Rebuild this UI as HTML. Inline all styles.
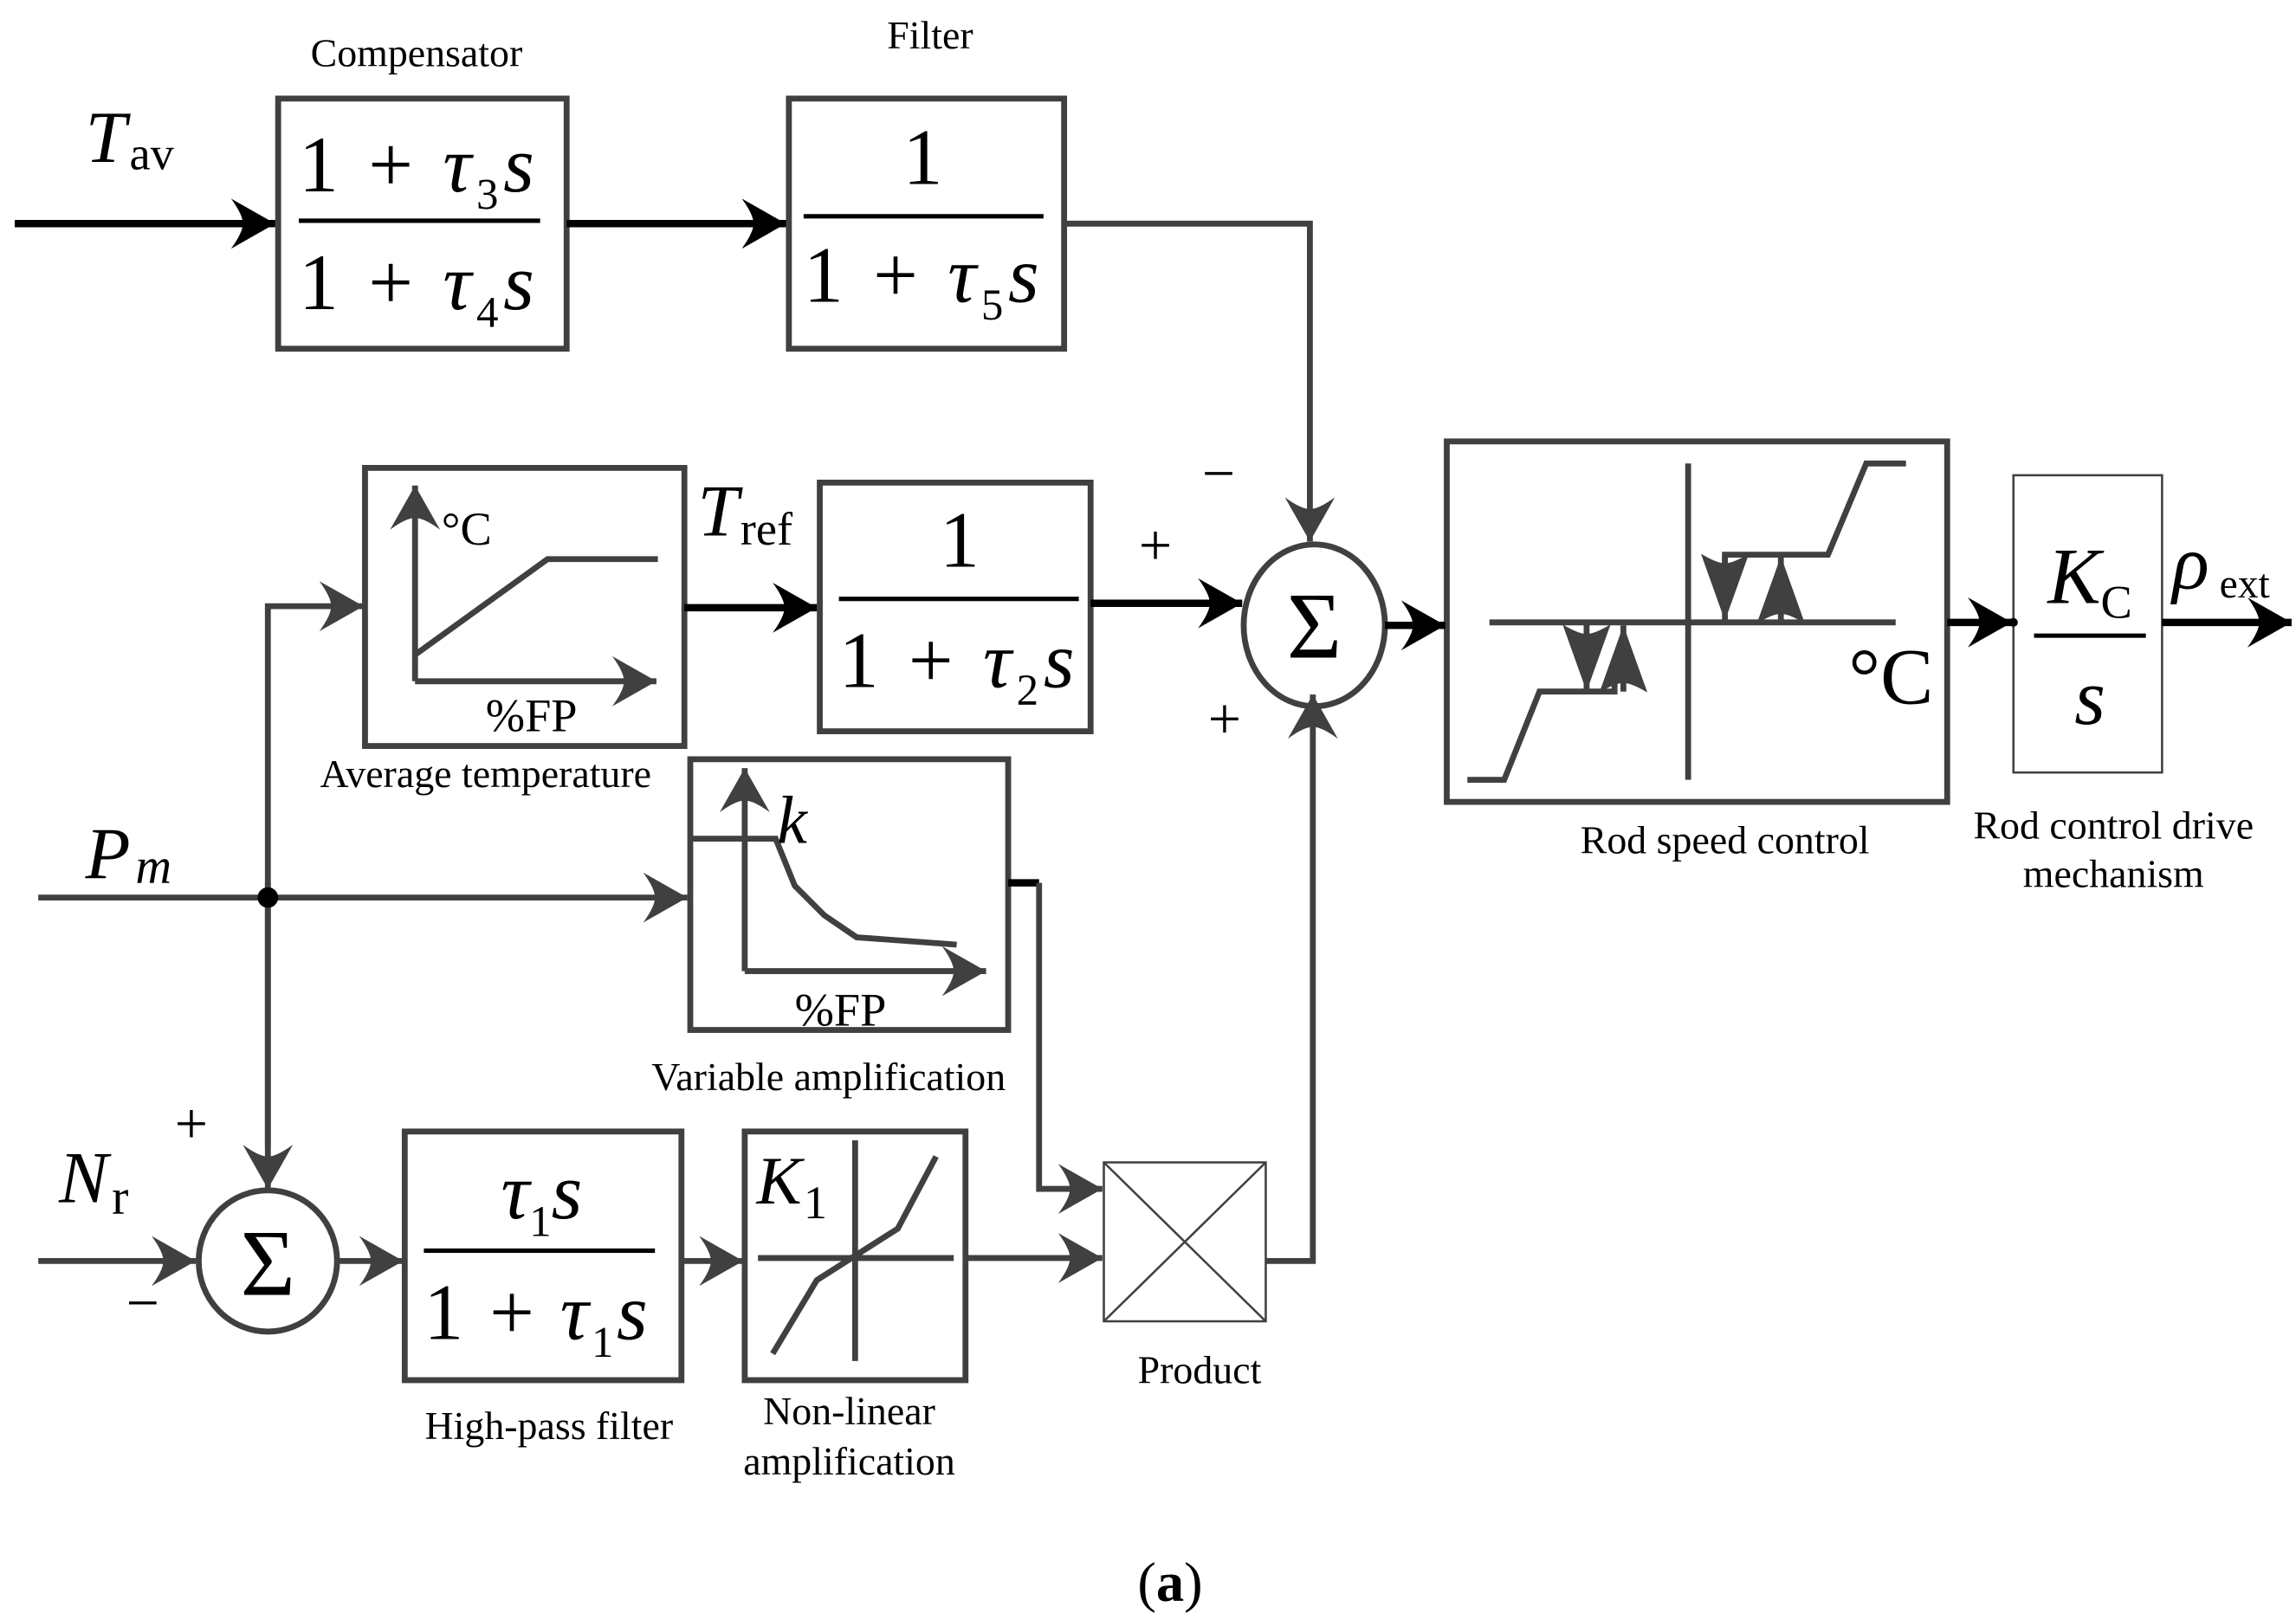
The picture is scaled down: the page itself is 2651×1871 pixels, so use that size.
<!DOCTYPE html>
<html><head><meta charset="utf-8"><style>
html,body{margin:0;padding:0;background:#fff}
svg{display:block}
text{font-family:"Liberation Serif",serif;fill:#000}
.i{font-style:italic}
</style></head><body>
<svg width="2651" height="1871" viewBox="0 0 1560 1101" xmlns="http://www.w3.org/2000/svg">
<defs>
<marker id="ab" markerUnits="userSpaceOnUse" markerWidth="40" markerHeight="40" viewBox="-32 -20 34 40" refX="0" refY="0" orient="auto"><path d="M0,0 L-30,-17 Q-22,-6 -22,0 Q-22,6 -30,17 Z" fill="#000"/></marker>
<marker id="ag" markerUnits="userSpaceOnUse" markerWidth="40" markerHeight="40" viewBox="-32 -20 34 40" refX="0" refY="0" orient="auto"><path d="M0,0 L-30,-17 Q-22,-6 -22,0 Q-22,6 -30,17 Z" fill="#404040"/></marker>
<marker id="as" markerUnits="userSpaceOnUse" markerWidth="50" markerHeight="40" viewBox="-44 -18 46 36" refX="0" refY="0" orient="auto"><path d="M0,0 L-42,-15 Q-36,-5 -36,0 Q-36,5 -42,15 Z" fill="#404040"/></marker>
</defs>
<g fill="none" stroke="#404040" stroke-width="4">
<rect x="189" y="67" width="196" height="170"/>
<rect x="536" y="67" width="187" height="170"/>
<rect x="248" y="318" width="217" height="189"/>
<rect x="557" y="328" width="184" height="169"/>
<rect x="469" y="516" width="216" height="184"/>
<rect x="275" y="769" width="188" height="169"/>
<rect x="506" y="769" width="150" height="169"/>
<rect x="983" y="300" width="340" height="245"/>
<ellipse cx="893" cy="425" rx="48" ry="55"/>
<ellipse cx="182" cy="857" rx="47" ry="48"/>
</g>
<g fill="none" stroke="#404040" stroke-width="1.5">
<rect x="750" y="790" width="110" height="108"/>
<line x1="750" y1="790" x2="860" y2="898"/><line x1="860" y1="790" x2="750" y2="898"/>
<rect x="1368" y="323" width="101" height="202"/>
</g>
<g stroke="#000" stroke-width="5" fill="none">
<line x1="10" y1="152" x2="187" y2="152" marker-end="url(#ab)"/>
<line x1="385" y1="152" x2="534" y2="152" marker-end="url(#ab)"/>
<line x1="465" y1="413" x2="555" y2="413" marker-end="url(#ab)"/>
<line x1="741" y1="410" x2="844" y2="410" marker-end="url(#ab)"/>
<line x1="941" y1="425" x2="982" y2="425" marker-end="url(#ab)"/>
<line x1="1323" y1="423" x2="1367" y2="423" marker-end="url(#ab)"/>
<line x1="1469" y1="423" x2="1557" y2="423" marker-end="url(#ab)"/>
<line x1="685" y1="600" x2="706" y2="600"/>
</g>
<circle cx="1368" cy="423" r="3" fill="#000"/>
<g stroke="#404040" stroke-width="4" fill="none">
<polyline points="723,152 890,152 890,368" marker-end="url(#ag)"/>
<polyline points="860,857 892,857 892,472" marker-end="url(#ag)"/>
<polyline points="182,780 182,412 247,412" marker-end="url(#ag)"/>
<line x1="182" y1="600" x2="182" y2="808" marker-end="url(#ag)"/>
<line x1="26" y1="610" x2="467" y2="610" marker-end="url(#ag)"/>
<line x1="26" y1="857" x2="133" y2="857" marker-end="url(#ag)"/>
<line x1="229" y1="857" x2="274" y2="857" marker-end="url(#ag)"/>
<line x1="463" y1="857" x2="505" y2="857" marker-end="url(#ag)"/>
<line x1="656" y1="855" x2="749" y2="855" marker-end="url(#ag)"/>
<polyline points="706,600 706,808 749,808" marker-end="url(#ag)"/>
<line x1="282" y1="463" x2="282" y2="330" marker-end="url(#ag)"/>
<line x1="282" y1="463" x2="446" y2="463" marker-end="url(#ag)"/>
<polyline points="282,445 372,380 447,380"/>
<line x1="506" y1="660" x2="506" y2="522" marker-end="url(#ag)"/>
<line x1="506" y1="660" x2="670" y2="660" marker-end="url(#ag)"/>
<polyline points="470,570 527,570 540,602 560,622 582,637 650,642"/>
<line x1="581" y1="775" x2="581" y2="925"/>
<line x1="515" y1="855" x2="648" y2="855"/>
<polyline points="525,920 555,870 610,835 636,786"/>
<line x1="1012" y1="423" x2="1288" y2="423"/>
<line x1="1147" y1="315" x2="1147" y2="530"/>
<polyline points="1295,315 1268,315 1242,377 1172,377 1172,385"/>
<polyline points="997,530 1022,530 1046,470 1097,470 1097,462"/>
</g>
<circle cx="182" cy="610" r="7" fill="#000"/>
<g stroke="#404040" stroke-width="4">
<line x1="1172" y1="378" x2="1172" y2="422" marker-end="url(#as)"/>
<line x1="1210" y1="423" x2="1210" y2="378" marker-end="url(#as)"/>
<line x1="1078" y1="423" x2="1078" y2="470" marker-end="url(#as)"/>
<line x1="1103" y1="470" x2="1103" y2="425" marker-end="url(#as)"/>
</g>
<g stroke="#000" stroke-width="3">
<line x1="203" y1="150" x2="367" y2="150"/>
<line x1="546" y1="147" x2="709" y2="147"/>
<line x1="570" y1="407" x2="733" y2="407"/>
<line x1="288" y1="850" x2="445" y2="850"/>
<line x1="1382" y1="432" x2="1458" y2="432"/>
</g>
<g font-size="27" text-anchor="middle">
<text x="283" y="45">Compensator</text>
<text x="632" y="33">Filter</text>
<text x="330" y="535">Average temperature</text>
<text x="563" y="741">Variable amplification</text>
<text x="373" y="978">High-pass filter</text>
<text x="577" y="968">Non-linear</text>
<text x="577" y="1002">amplification</text>
<text x="815" y="940">Product</text>
<text x="1172" y="580">Rod speed control</text>
<text x="1436" y="570">Rod control drive</text>
<text x="1436" y="603">mechanism</text>
</g>
<text x="58" y="110" font-size="50" class="i">T</text><text x="88" y="115" font-size="32">av</text>
<text x="474" y="364" font-size="50" class="i">T</text><text x="503" y="370" font-size="32">ref</text>
<text x="58" y="597" font-size="50" class="i">P</text><text x="92" y="600" font-size="34" class="i">m</text>
<text x="40" y="817" font-size="50" class="i">N</text><text x="76" y="825" font-size="34">r</text>
<text x="1476" y="400" font-size="52" class="i">ρ</text><text x="1508" y="406" font-size="28">ext</text>
<g font-size="54">
<text x="203" y="130" textLength="160" lengthAdjust="spacing">1 + <tspan class="i">τ</tspan><tspan font-size="30" dy="12">3</tspan><tspan class="i" dy="-12">s</tspan></text>
<text x="203" y="210" textLength="160" lengthAdjust="spacing">1 + <tspan class="i">τ</tspan><tspan font-size="30" dy="12">4</tspan><tspan class="i" dy="-12">s</tspan></text>
<text x="627" y="125" text-anchor="middle">1</text>
<text x="546" y="205" textLength="160" lengthAdjust="spacing">1 + <tspan class="i">τ</tspan><tspan font-size="30" dy="12">5</tspan><tspan class="i" dy="-12">s</tspan></text>
<text x="652" y="385" text-anchor="middle">1</text>
<text x="570" y="467" textLength="160" lengthAdjust="spacing">1 + <tspan class="i">τ</tspan><tspan font-size="30" dy="12">2</tspan><tspan class="i" dy="-12">s</tspan></text>
<text x="368" y="828" text-anchor="middle"><tspan class="i">τ</tspan><tspan font-size="30" dy="12">1</tspan><tspan class="i" dy="-12">s</tspan></text>
<text x="288" y="910" textLength="152" lengthAdjust="spacing">1 + <tspan class="i">τ</tspan><tspan font-size="30" dy="12">1</tspan><tspan class="i" dy="-12">s</tspan></text>
<text x="1420" y="410" text-anchor="middle"><tspan class="i">K</tspan><tspan font-size="32" dy="10">C</tspan></text>
<text x="1420" y="492" text-anchor="middle" class="i">s</text>
</g>
<text x="893" y="447" font-size="64" text-anchor="middle">Σ</text>
<text x="182" y="880" font-size="64" text-anchor="middle">Σ</text>
<text x="514" y="818" font-size="46" class="i">K</text><text x="546" y="828" font-size="32">1</text>
<text x="528" y="573" font-size="46" class="i">k</text>
<text x="300" y="370" font-size="32">°C</text>
<text x="1256" y="478" font-size="54">°C</text>
<text x="330" y="497" font-size="32">%FP</text>
<text x="540" y="697" font-size="32">%FP</text>
<g font-size="40" text-anchor="middle">
<text x="828" y="335">−</text>
<text x="785" y="384">+</text>
<text x="832" y="502">+</text>
<text x="130" y="777">+</text>
<text x="97" y="899">−</text>
</g>
<text x="795" y="1088" font-size="38" text-anchor="middle">(<tspan font-weight="bold">a</tspan>)</text>
</svg>
</body></html>
